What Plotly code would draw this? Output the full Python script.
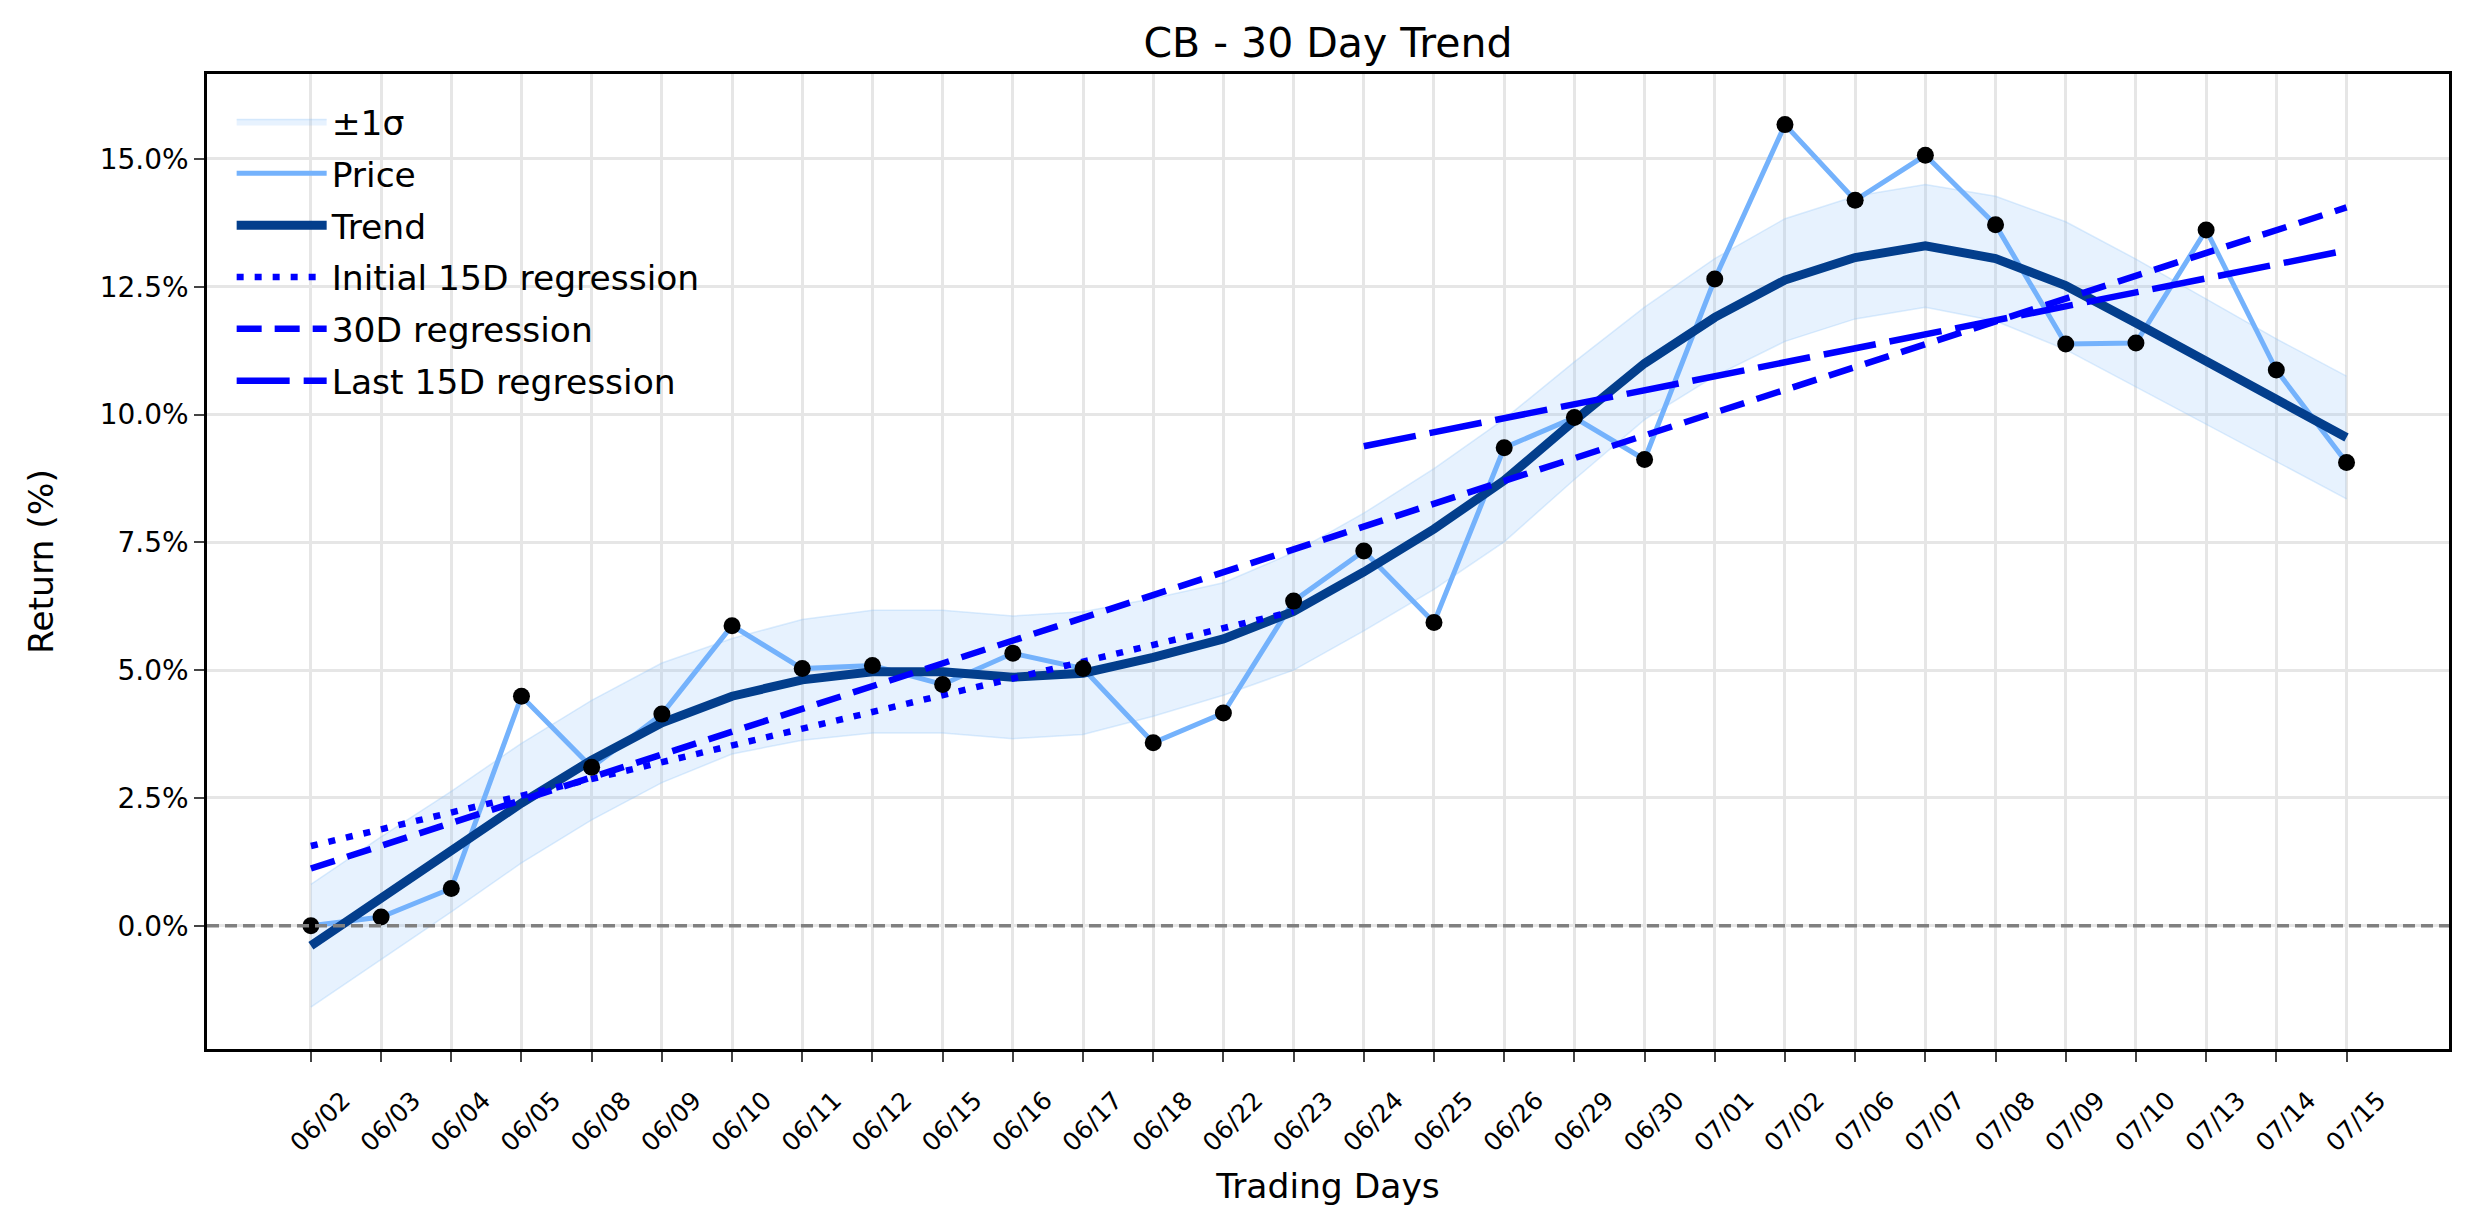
import plotly.graph_objects as go

# ---------------- data ----------------
dates = ["06/02", "06/03", "06/04", "06/05", "06/08", "06/09", "06/10", "06/11", "06/12", "06/15",
         "06/16", "06/17", "06/18", "06/22", "06/23", "06/24", "06/25", "06/26", "06/29", "06/30",
         "07/01", "07/02", "07/06", "07/07", "07/08", "07/09", "07/10", "07/13", "07/14", "07/15"]

price = [0.00, 0.17, 0.73, 4.49, 3.10, 4.14, 5.87, 5.03, 5.09, 4.72,
         5.33, 5.03, 3.58, 4.16, 6.35, 7.33, 5.93, 9.35, 9.94, 9.12,
         12.65, 15.67, 14.19, 15.07, 13.71, 11.38, 11.40, 13.61, 10.87, 9.06]

trend = [-0.39, 0.54, 1.45, 2.40, 3.24, 3.97, 4.49, 4.81, 4.97, 4.97,
         4.86, 4.94, 5.25, 5.61, 6.15, 6.92, 7.76, 8.71, 9.88, 11.00,
         11.90, 12.63, 13.07, 13.30, 13.05, 12.52, 11.79, 11.04, 10.28, 9.55]

sigma = [1.20, 1.20, 1.18, 1.17, 1.17, 1.17, 1.13, 1.18, 1.20, 1.20,
         1.20, 1.20, 1.15, 1.10, 1.15, 1.15, 1.18, 1.20, 1.15, 1.10,
         1.15, 1.20, 1.20, 1.20, 1.22, 1.25, 1.25, 1.22, 1.20, 1.20]

# regression line endpoints (start/end date index) and values
reg_initial_idx = [0, 14]
reg_initial_val = [1.56, 6.15]
reg_30d_idx = [0, 29]
reg_30d_val = [1.12, 14.05]
reg_last_idx = [15, 29]
reg_last_val = [9.38, 13.21]

y_ticks = [0.0, 2.5, 5.0, 7.5, 10.0, 12.5, 15.0]

# ---------------- figure ----------------
xs = list(range(len(dates)))
upper = [t + s for t, s in zip(trend, sigma)]
lower = [t - s for t, s in zip(trend, sigma)]

FONT = "DejaVu Sans"
BAND = "rgba(144, 196, 250, 0.22)"
BAND_EDGE = "rgba(144, 196, 250, 0.30)"
PRICE_C = "#74B2FC"
TREND_C = "#033E8C"
REG_C = "#0000FF"

fig = go.Figure()

fig.add_trace(go.Scatter(x=xs, y=lower, mode="lines", line=dict(width=1.5, color=BAND_EDGE),
                         showlegend=False, hoverinfo="skip", legendgroup="band"))
fig.add_trace(go.Scatter(x=xs, y=upper, mode="lines", line=dict(width=1.5, color=BAND_EDGE),
                         fill="tonexty", fillcolor=BAND, name="±1σ", legendgroup="band"))

fig.add_trace(go.Scatter(x=xs, y=price, mode="lines", line=dict(color=PRICE_C, width=5),
                         name="Price", legendgroup="price"))
fig.add_trace(go.Scatter(x=xs, y=trend, mode="lines", line=dict(color=TREND_C, width=9),
                         name="Trend", legendgroup="trend"))

fig.add_trace(go.Scatter(x=reg_initial_idx, y=reg_initial_val, mode="lines",
                         line=dict(color=REG_C, width=6.5, dash="7px,11px"),
                         name="Initial 15D regression", legendgroup="r1"))
fig.add_trace(go.Scatter(x=reg_30d_idx, y=reg_30d_val, mode="lines",
                         line=dict(color=REG_C, width=6.5, dash="25px,13px"),
                         name="30D regression", legendgroup="r2"))
fig.add_trace(go.Scatter(x=reg_last_idx, y=reg_last_val, mode="lines",
                         line=dict(color=REG_C, width=6.5, dash="53px,14px"),
                         name="Last 15D regression", legendgroup="r3"))

fig.add_trace(go.Scatter(x=xs, y=price, mode="markers",
                         marker=dict(color="black", size=17),
                         showlegend=False, hoverinfo="skip"))

fig.add_shape(type="line", xref="paper", x0=0, x1=1, yref="y", y0=0, y1=0,
              line=dict(color="#808080", width=3.5, dash="12px,6px"), layer="above")

fig.update_layout(
    width=2474, height=1224,
    margin=dict(l=207, r=25, t=74, b=175),
    paper_bgcolor="white", plot_bgcolor="white",
    font=dict(family=FONT, color="black", size=28),
    title=dict(text="CB - 30 Day Trend", x=0.5, xref="paper", xanchor="center",
               y=1 - 43 / 1224, yanchor="middle", font=dict(size=41, family=FONT)),
    showlegend=True,
    legend=dict(x=0.011, y=0.981, xanchor="left", yanchor="top",
                bgcolor="rgba(255,255,255,0)", borderwidth=0,
                font=dict(size=34.5, family=FONT), itemwidth=90,
                tracegroupgap=4, traceorder="grouped"),
)

fig.update_xaxes(
    range=[-1.48, 30.46], tickmode="array", tickvals=xs, ticktext=dates,
    tickangle=-45, tickfont=dict(size=25), ticks="outside", ticklen=10, tickwidth=2,
    ticklabelshift=32, ticklabelstandoff=14,
    showgrid=True, gridcolor="#E6E6E6", gridwidth=2.5, zeroline=False,
    showline=True, linecolor="black", linewidth=2.5, mirror=True,
    title=dict(text="Trading Days", font=dict(size=34.5), standoff=18),
)
fig.update_yaxes(
    range=[-2.41, 16.66], tickmode="array", tickvals=y_ticks,
    ticktext=[f"{v:.1f}%" for v in y_ticks], tickfont=dict(size=28),
    ticks="outside", ticklen=10, tickwidth=2,
    showgrid=True, gridcolor="#E6E6E6", gridwidth=2.5, zeroline=False,
    showline=True, linecolor="black", linewidth=2.5, mirror=True,
    title=dict(text="Return (%)", font=dict(size=34.5), standoff=36),
)

fig.write_html("out.html")
